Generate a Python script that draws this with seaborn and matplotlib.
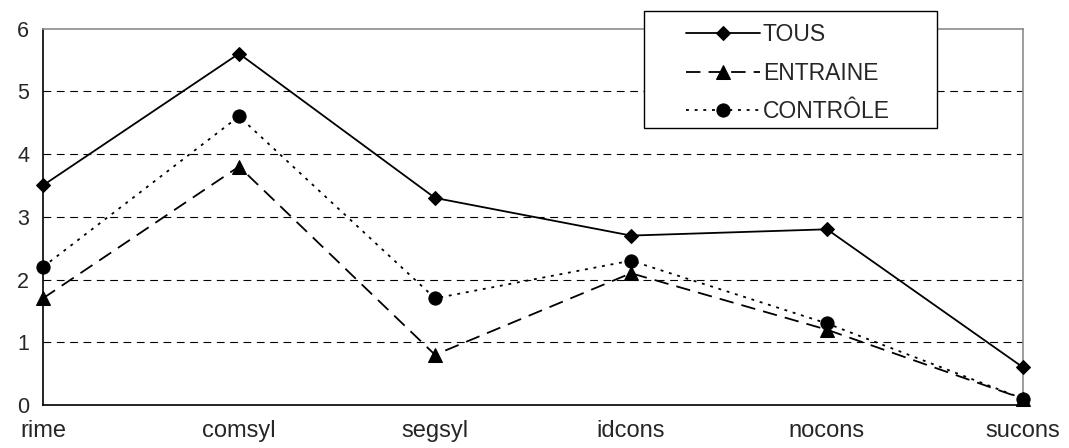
import matplotlib
matplotlib.use("Agg")
import matplotlib.pyplot as plt
from matplotlib.patches import Rectangle
import seaborn as sns
import pandas as pd

categories = ["rime", "comsyl", "segsyl", "idcons", "nocons", "sucons"]
tous = [3.5, 5.6, 3.3, 2.7, 2.8, 0.6]
entraine = [1.7, 3.8, 0.8, 2.1, 1.2, 0.1]
controle = [2.2, 4.6, 1.7, 2.3, 1.3, 0.1]
series_names = ["TOUS", "ENTRAINE", "CONTRÔLE"]
y_ticks = [0, 1, 2, 3, 4, 5, 6]

sns.set_style("white")
plt.rcParams["font.family"] = ["Liberation Sans", "DejaVu Sans"]

W, H = 1069, 448
fig = plt.figure(figsize=(W / 100, H / 100), dpi=100)
ax = fig.add_axes([43 / W, 1 - 405 / H, (1023 - 43) / W, (405 - 28.5) / H])

styles = [
    dict(marker="D", markersize=7.0, linestyle="-"),
    dict(marker="^", markersize=9.5, linestyle=(0, (8, 4.5))),
    dict(marker="o", markersize=9.5, linestyle=(0, (1.6, 3.2))),
]
for name, vals, st in zip(series_names, [tous, entraine, controle], styles):
    df = pd.DataFrame({"cat": categories, "val": vals})
    sns.lineplot(data=df, x="cat", y="val", ax=ax, color="black", lw=1.3,
                 markeredgecolor="black", markerfacecolor="black",
                 label=name, sort=False, zorder=4, clip_on=False, **st)

ax.set_xlim(0, len(categories) - 1)
ax.set_ylim(0, 6)
ax.set_yticks(y_ticks)
ax.set_yticklabels([str(t) for t in y_ticks], fontsize=15.5)
ax.set_xticks(range(len(categories)))
ax.set_xticklabels(categories, fontsize=17)
ax.set_xlabel("")
ax.set_ylabel("")
for t in y_ticks[1:-1]:
    ax.axhline(t, color="black", lw=0.8, linestyle=(0, (7, 5)), zorder=1)

ax.spines["left"].set_color("black")
ax.spines["bottom"].set_color("black")
ax.spines["top"].set_color("#8c8c8c")
ax.spines["right"].set_color("#8c8c8c")
for s in ax.spines.values():
    s.set_linewidth(1.2)
    s.set_visible(True)
ax.tick_params(axis="both", direction="out", length=6, width=1, color="black", pad=4)
ax.tick_params(axis="x", pad=5)

# legend box
rect = Rectangle((644 / W, 1 - 128 / H), (937 - 644) / W, (128 - 10.7) / H,
                 transform=fig.transFigure, facecolor="white", edgecolor="black",
                 lw=1.0, clip_on=False, zorder=8)
ax.add_patch(rect)
leg = ax.legend(loc="upper left", bbox_to_anchor=(686 / W, 1 - 23 / H),
                bbox_transform=fig.transFigure, frameon=False, fontsize=16.5,
                handlelength=3.25, handletextpad=0.1, labelspacing=0.68,
                borderpad=0, borderaxespad=0)
leg.set_zorder(10)

fig.savefig("out.png", dpi=100, facecolor="white")
